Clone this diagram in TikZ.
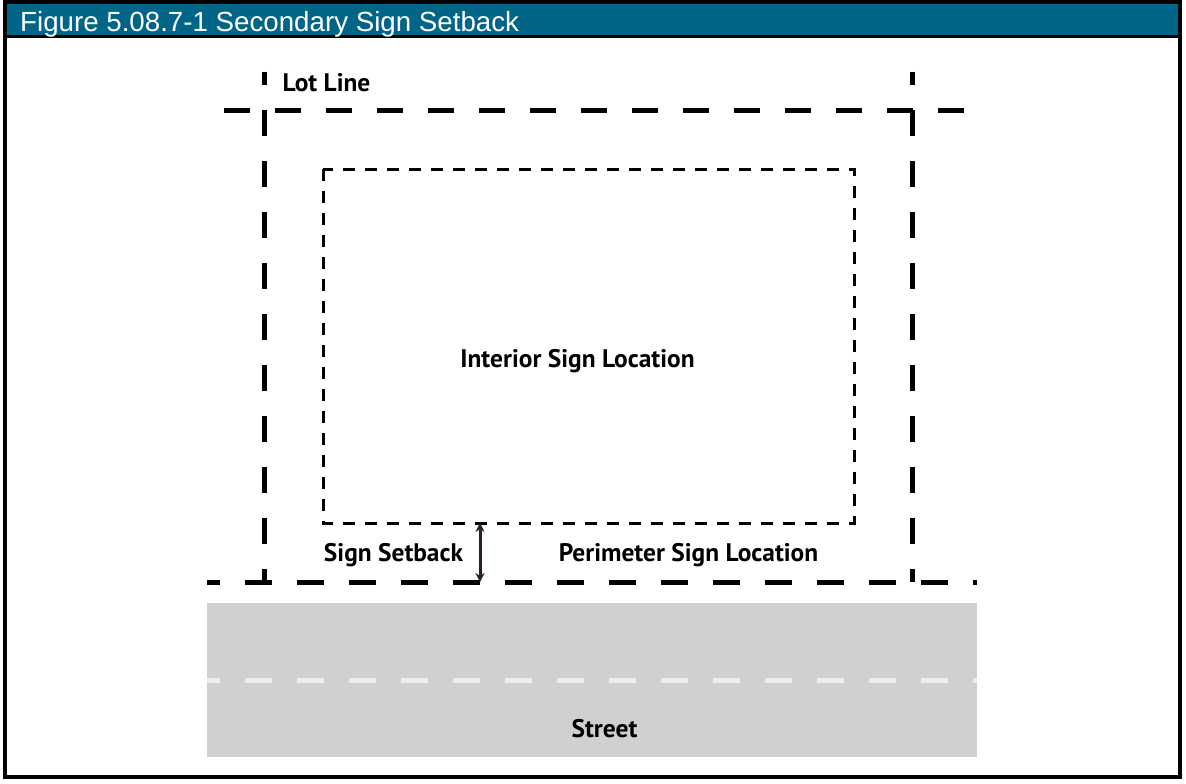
\documentclass[tikz,border=0pt]{standalone}
\usepackage{fontspec}
\usepackage{tikz}
\usetikzlibrary{arrows.meta, positioning}
\setmainfont{Liberation Sans}
\newfontfamily\lblfont{PT Sans}
\definecolor{titleteal}{RGB}{0,101,135}
\definecolor{streetgray}{RGB}{208,208,208}
\definecolor{lanewhite}{RGB}{238,238,238}
\definecolor{setbackbrown}{RGB}{46,31,31}

\begin{document}
\begin{tikzpicture}[x=1pt, y=-1pt,
  lotline/.style={line width=5pt, dash pattern=on 26pt off 25pt},
  signline/.style={line width=3pt, dash pattern=on 12pt off 10pt},
  lbl/.style={font=\lblfont\bfseries\fontsize{25.4}{26}\selectfont, inner sep=0pt, anchor=base}]
  \useasboundingbox (0,0) rectangle (1186,784);

  % Frame and title bar
  \fill[titleteal] (5,2) rectangle (1180,36.5);
  \draw[line width=4pt] (5,2) rectangle (1180,776.5);
  \draw[line width=3pt] (5,36.5) -- (1180,36.5);
  \node[anchor=base west, text=white, font=\fontsize{27.7}{28}\selectfont, inner sep=0pt] (title) at (20,32) {Figure 5.08.7-1 Secondary Sign Setback};

  % Street
  \fill[streetgray] (207,603) rectangle (977,757);
  \draw[lanewhite, line width=5pt, dash pattern=on 27pt off 25pt, dash phase=14pt] (207,680) -- (977,680);

  % Lot lines
  \draw[lotline] (224,110) -- (968,110);
  \draw[lotline, dash pattern=on 27pt off 25pt, dash phase=14pt] (207,582) -- (977,582);
  \draw[lotline, dash phase=13pt] (264,72) -- (264,582);
  \draw[lotline, dash phase=13pt] (912,72) -- (912,582);

  % Interior sign area
  \draw[signline] (323,169) rectangle (854,523);

  % Setback
  \coordinate (setbackTop) at (480,523);
  \coordinate (setbackBot) at (480,582);
  \draw[setbackbrown, line width=3pt, {Stealth[length=9pt,width=9pt]}-{Stealth[length=9pt,width=9pt]}] (setbackTop) -- (setbackBot);

  % Labels
  \node[lbl] (lotlbl) at (326.5,92) {Lot Line};
  \node[lbl] (interior) at (577.5,367) {Interior Sign Location};
  \node[lbl] (setback) at (393.5,561) {Sign Setback};
  \node[lbl] (perimeter) at (688.5,561) {Perimeter Sign Location};
  \node[lbl] (street) at (604.5,737) {Street};
\end{tikzpicture}
\end{document}
